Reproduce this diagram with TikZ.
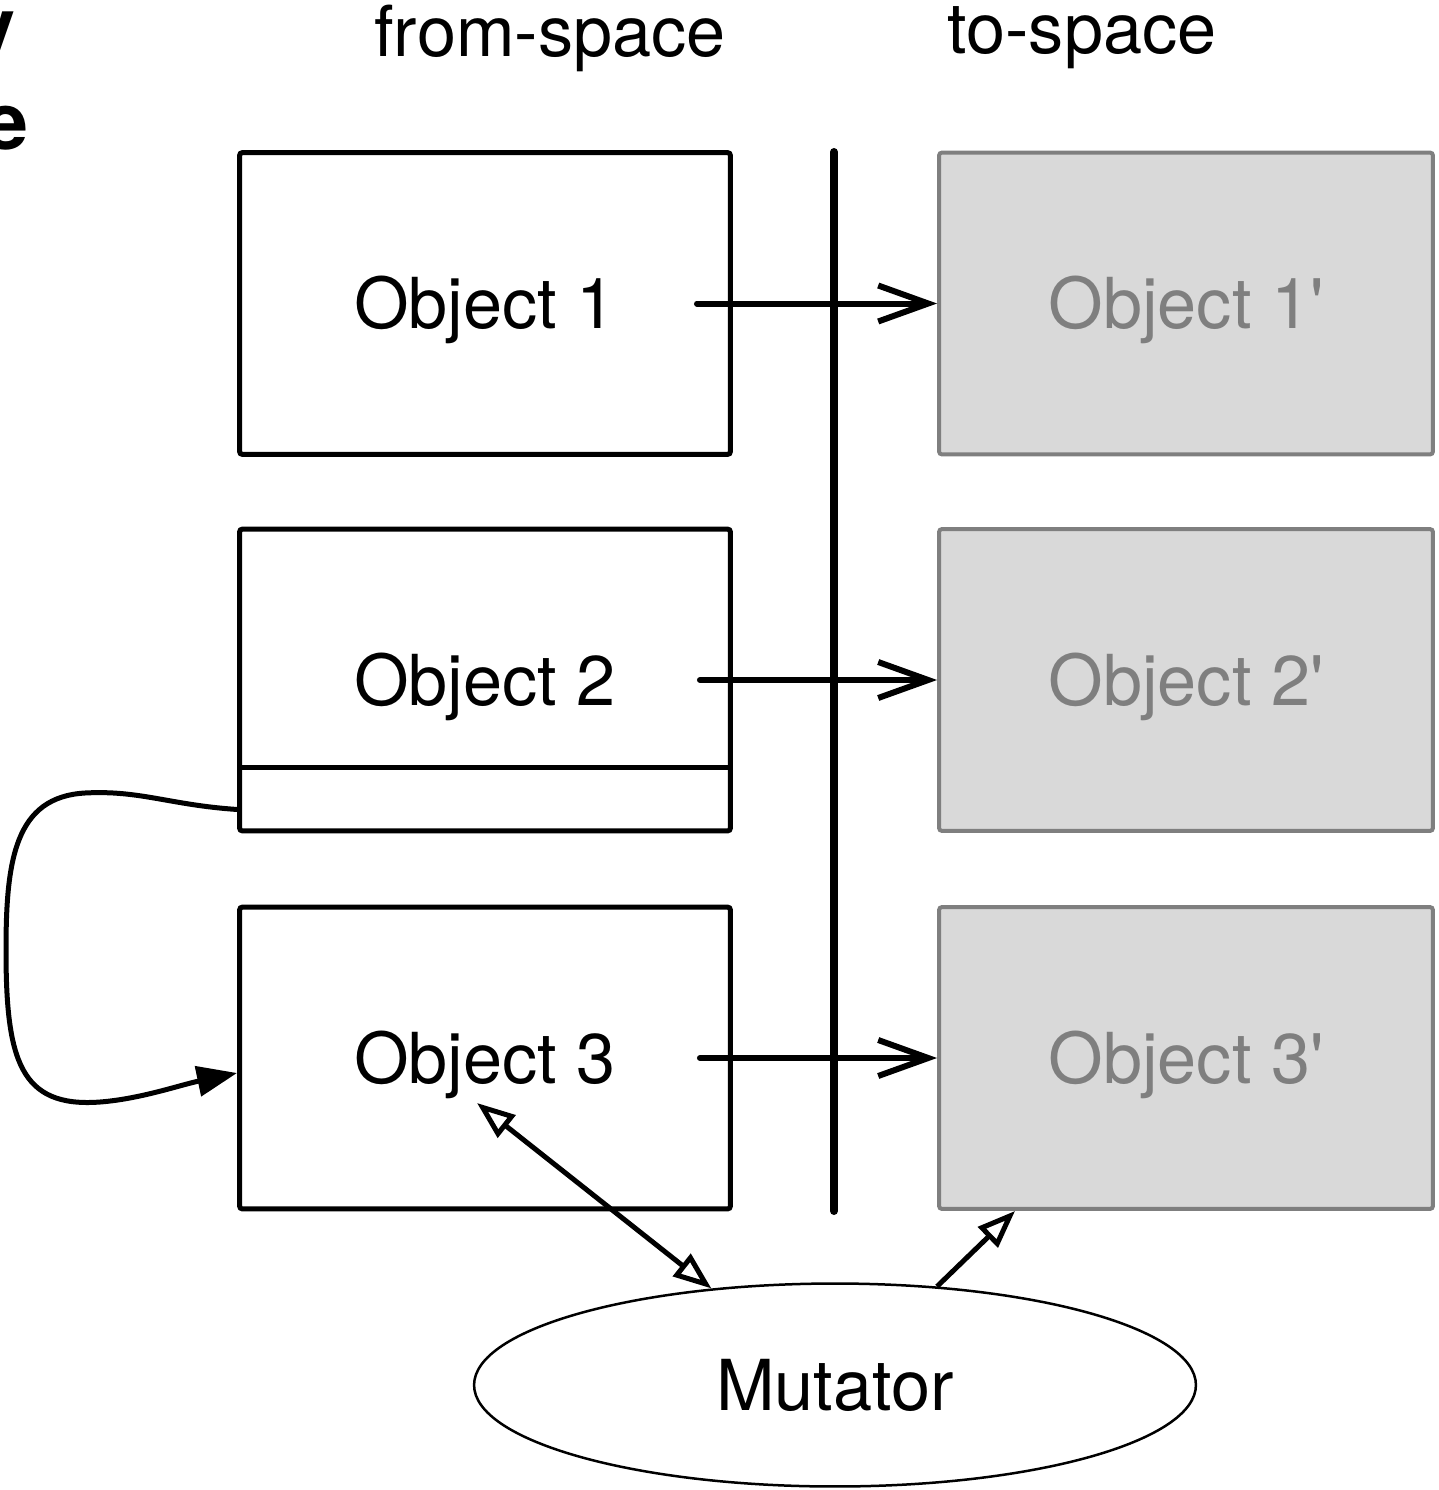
\documentclass[tikz,border=0pt]{standalone}
\usepackage{fontspec}
\setmainfont{TeX Gyre Heros}
\usetikzlibrary{arrows.meta,shapes.geometric}
\definecolor{tofill}{HTML}{D9D9D9}
\definecolor{toline}{HTML}{7F7F7F}
\newcommand\bigtxt{\fontsize{40}{48}\selectfont}
\tikzset{
  obj/.style={draw,line width=0.1cm,rounded corners=0.06cm,minimum width=9.82cm,
    minimum height=6.04cm,inner sep=0pt,font=\bigtxt,text height=1.02cm,text depth=0pt},
  copyobj/.style={obj,draw=toline,fill=tofill,text=toline,line width=0.08cm,minimum width=9.88cm},
  fwd/.style={line width=0.12cm,-{Straight Barb[length=1cm,width=0.72cm]}},
}
\begin{document}
\begin{tikzpicture}[x=0.02cm,y=-0.02cm]
  \useasboundingbox (0,0) rectangle (1439,1490);
  % cut-off title
  \node (ttl1) [anchor=base east,inner sep=0pt,font=\fontsize{45}{54}\selectfont\bfseries] at (16,55) {y};
  \node (ttl2) [anchor=base east,inner sep=0pt,font=\fontsize{45}{54}\selectfont\bfseries] at (29,150) {e};
  \node (from) at (550,38) {\bigtxt from-space};
  \node (to) at (1082,38) {\bigtxt to-space};
  % objects
  \node (o1) [obj] at (485,303.5) {Object 1};
  \node (o2) [obj] at (485,680) {Object 2};
  \node (o3) [obj] at (485,1058) {Object 3};
  \node (o1p) [copyobj] at (1186,303.5) {Object 1\textquotesingle};
  \node (o2p) [copyobj] at (1186,680) {Object 2\textquotesingle};
  \node (o3p) [copyobj] at (1186,1058) {Object 3\textquotesingle};
  \node (mut) [draw,ellipse,line width=0.05cm,minimum width=14.44cm,minimum height=4.06cm,font=\bigtxt] at (835,1385) {Mutator};
  \draw [line width=0.1cm] (o2.west |- 0,767) -- (o2.east |- 0,767);
  \draw [line width=0.16cm,line cap=round] (834,152) -- (834,1211);
  % forwarding
  \begin{scope}[line cap=round]
      \draw [fwd] ([xshift=-0.72cm]o1.east) -- (o1p.west);
      \draw [fwd] ([xshift=-0.66cm]o2.east) -- (o2p.west);
      \draw [fwd] ([xshift=-0.66cm]o3.east) -- (o3p.west);
  \end{scope}
  \draw [line width=0.1cm,-{Triangle[length=0.8cm,width=0.6cm]}]
      ([yshift=0.48cm]o2.south west) .. controls (170,805) and (140,790) .. (85,793)
      .. controls (15,797) and (6,860) .. (6,950)
      .. controls (6,1060) and (20,1108) .. (100,1102)
      .. controls (140,1099) and (180,1085) .. ([yshift=-0.3cm]o3.west);
  \draw [line width=0.1cm,{Triangle[open,length=0.76cm,width=0.56cm]}-{Triangle[open,length=0.76cm,width=0.56cm]}]
      ([xshift=-0.16cm,yshift=-0.9cm]o3.center) -- (mut.142);
  \draw [line width=0.1cm,-{Triangle[open,length=0.76cm,width=0.56cm]}]
      (mut.44) -- ([xshift=1.56cm]o3p.south west);
\end{tikzpicture}
\end{document}
